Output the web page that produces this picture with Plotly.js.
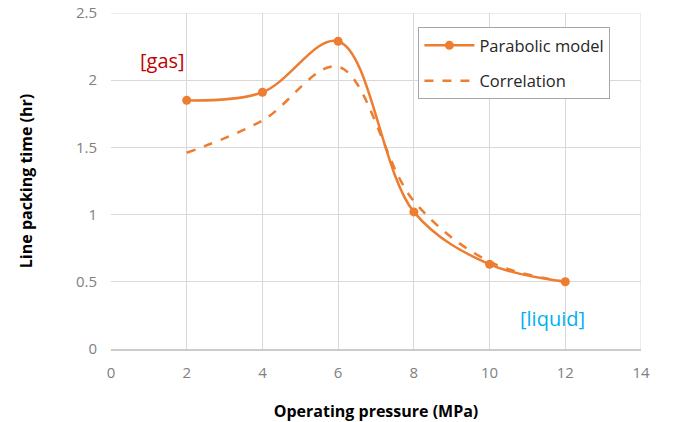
<!DOCTYPE html>
<html><head><meta charset="utf-8">
<script src="https://cdn.plot.ly/plotly-3.0.1.min.js"></script>
<style>html,body{margin:0;padding:0;background:#fff}#chart{width:675px;height:422px}</style>
</head><body><div id="chart"></div>
<script>
const pressure = [2, 4, 6, 8, 10, 12];
const parabolicModel = [1.85, 1.91, 2.29, 1.02, 0.63, 0.50];
const correlation = [1.46, 1.70, 2.10, 1.10, 0.65, 0.50];
const xTicks = [0, 2, 4, 6, 8, 10, 12, 14];
const yTicks = [0, 0.5, 1, 1.5, 2, 2.5];
const yTickLabels = ['0', '0.5', '1', '1.5', '2', '2.5'];

const orange = '#ed7d31';
const traces = [
  {x: pressure, y: parabolicModel, name: 'Parabolic model', type: 'scatter', mode: 'lines+markers',
   line: {color: orange, width: 2.5, shape: 'spline', smoothing: 1}, marker: {color: orange, size: 9},
   legendgroup: 'a'},
  {x: pressure, y: correlation, name: 'Correlation', type: 'scatter', mode: 'lines',
   line: {color: orange, width: 2.5, dash: 'dash', shape: 'spline', smoothing: 1},
   legendgroup: 'b'}
];
const font = "'Open Sans', 'Noto Sans', sans-serif";
const layout = {
  width: 675, height: 422,
  margin: {l: 111, r: 34, t: 13, b: 73},
  paper_bgcolor: '#fff', plot_bgcolor: '#fff',
  showlegend: true,
  legend: {x: 0.58, y: 0.958, xanchor: 'left', yanchor: 'top', bgcolor: '#fff',
    bordercolor: '#a6a6a6', borderwidth: 1, font: {family: font, size: 16.5, color: '#262626'},
    traceorder: 'grouped', tracegroupgap: 11, itemwidth: 50},
  xaxis: {range: [0, 14], tickvals: xTicks, ticktext: xTicks.map(String), showgrid: true,
    gridcolor: '#d9d9d9', gridwidth: 1, zeroline: false, showline: true, linecolor: '#cccccc', linewidth: 1.5,
    mirror: false, ticks: 'outside', ticklen: 9, tickcolor: 'rgba(0,0,0,0)',
    tickfont: {family: font, size: 15, color: '#808080'},
    title: {text: 'Operating pressure (MPa)', font: {family: font, size: 16, color: '#000', weight: 'bold'}, standoff: 26}},
  yaxis: {range: [0, 2.5], tickvals: yTicks, ticktext: yTickLabels, showgrid: true,
    gridcolor: '#d9d9d9', gridwidth: 1, zeroline: false, showline: false,
    ticks: 'outside', ticklen: 10, tickcolor: 'rgba(0,0,0,0)',
    tickfont: {family: font, size: 15, color: '#808080'},
    title: {text: 'Line packing time (hr)', font: {family: font, size: 16, color: '#000', weight: 'bold'}, standoff: 39}},
  shapes: [
    {type: 'line', xref: 'x', yref: 'paper', x0: 14, x1: 14, y0: 0, y1: 1, line: {color: '#d9d9d9', width: 1}},
    {type: 'line', xref: 'paper', yref: 'y', x0: 0, x1: 1, y0: 2.5, y1: 2.5, line: {color: '#d9d9d9', width: 1}}
  ],
  annotations: [
    {x: 1.37, y: 2.15, xref: 'x', yref: 'y', text: '[gas]', showarrow: false,
     font: {family: font, size: 20, color: '#c00000'}},
    {x: 11.65, y: 0.23, xref: 'x', yref: 'y', text: '[liquid]', showarrow: false,
     font: {family: font, size: 20, color: '#00b0f0'}}
  ]
};
Plotly.newPlot('chart', traces, layout, {displayModeBar: false, staticPlot: true});
</script></body></html>
